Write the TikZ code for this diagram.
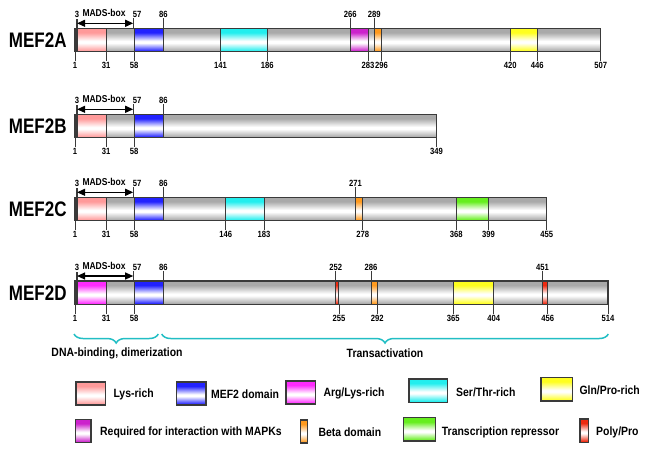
\documentclass[tikz,border=0pt]{standalone}
\usepackage{fontspec}
\setmainfont{Liberation Sans}
\newfontfamily\titlef{Liberation Sans}[FakeStretch=0.81]
\newfontfamily\numf{Liberation Sans}[FakeStretch=0.85]
\newfontfamily\legf{Liberation Sans}[FakeStretch=0.87]
\usetikzlibrary{decorations.pathreplacing,arrows.meta}
\definecolor{edge}{HTML}{3A3A3A}
\definecolor{barcol}{HTML}{A9A9A9}
\definecolor{lys}{HTML}{FF9A9A}
\definecolor{mef}{HTML}{2222FF}
\definecolor{arg}{HTML}{FF2BFF}
\definecolor{ser}{HTML}{22EEEE}
\definecolor{gln}{HTML}{FFFF1E}
\definecolor{mapk}{HTML}{CC22CC}
\definecolor{beta}{HTML}{FF9A1E}
\definecolor{trep}{HTML}{66EE1E}
\definecolor{poly}{HTML}{EE2A10}
\definecolor{brc}{HTML}{22BEC4}
\colorlet{basecol}{barcol}
\pgfdeclareverticalshading[basecol]{band}{100bp}{color(0bp)=(basecol);color(27bp)=(basecol);color(44bp)=(white);color(48bp)=(white);color(66bp)=(basecol);color(100bp)=(basecol)}
\newcommand\Xof[1]{\pgfmathsetmacro\xP{73.96+1.039*(#1)}}
\newcommand\domain[4]{% colour, p1, p2, ytop
  \begingroup\colorlet{basecol}{#1}\Xof{#2}\let\xA\xP\Xof{#3}\let\xB\xP
  \path[shading=band,draw=edge,line width=0.9] (\xA,#4) rectangle (\xB,{#4+23.5});
  \endgroup}
\newcommand\protbar[3]{% name, ytop, last residue
  \begingroup\colorlet{basecol}{barcol}\Xof{1}\let\xA\xP\Xof{#3}\let\xB\xP
  \path[shading=band,draw=edge,line width=1.2] (\xA,#2) rectangle (\xB,{#2+23.5});
  \endgroup
  \node[title] (#1) at (37.8,{#2+12}) {#1};}
\newcommand\tup[4]{% pos, ytop, label, name
  \Xof{#1}\draw[tick] (\xP,{#2-10}) -- (\xP,#2);
  \node[num,anchor=south] (#4) at (\xP,{#2-10}) {#3};}
\newcommand\tdn[4]{% pos, ytop, label, name
  \Xof{#1}\draw[tick] (\xP,{#2+23.5}) -- (\xP,{#2+33}); 
  \node[num,anchor=north] (#4) at (\xP,{#2+33}) {#3};}
\newcommand\mads[2]{% prefix, ytop
  \Xof{3}\let\xA\xP\Xof{57}\let\xB\xP
  \draw[draw=edge,line width=1.3] (\xA,{#2-9}) -- (\xA,{#2+23.5});
  \draw[tick] (\xB,{#2-10}) -- (\xB,#2);
  \draw[madsarrow] (\xA,{#2-5}) -- (\xB,{#2-5});
  \node[num,anchor=south] (#1m3) at (\xA,{#2-10}) {3};
  \node[madsf] (#1mb) at (104,{#2-15}) {MADS-box};
  \node[num] (#1m57) at ({\xB+4},{#2-13.5}) {57};}
\newcommand\legbox[5]{% colour, x1, y1, x2, y2
  \begingroup\colorlet{basecol}{#1}
  \path[shading=band,draw=edge,line width=1.2] (#2,#3) rectangle (#4,#5);
  \endgroup}
\begin{document}
\begin{tikzpicture}[x=1pt,y=-1pt,
  tick/.style={draw=edge,line width=0.8},
  num/.style={font=\numf\bfseries\fontsize{9}{9}\selectfont,inner sep=0.6pt},
  madsf/.style={font=\numf\bfseries\fontsize{10}{10}\selectfont,inner sep=0pt},
  title/.style={font=\titlef\bfseries\fontsize{21}{21}\selectfont,inner sep=0pt},
  legt/.style={font=\legf\bfseries\fontsize{12}{12}\selectfont,inner sep=0pt},
  madsarrow/.style={draw=black,line width=1.2,{Triangle[length=8pt,width=7pt]}-{Triangle[length=8pt,width=7pt]}},
  brace/.style={draw=brc,line width=1.5,decorate,decoration={brace,mirror,amplitude=9pt}}]
\useasboundingbox (0,0) rectangle (650,451);
% ---------------- MEF2A
\def\yt{28.3}
\protbar{MEF2A}{\yt}{507}
\domain{lys}{3}{31}{\yt}
\domain{mef}{58}{86}{\yt}
\domain{ser}{141}{186}{\yt}
\domain{mapk}{266}{283}{\yt}
\domain{beta}{289}{296}{\yt}
\domain{gln}{420}{446}{\yt}
\mads{a}{\yt}
\tup{86}{\yt}{86}{a86}
\tup{266}{\yt}{266}{a266}
\tup{289}{\yt}{289}{a289}
\tdn{1}{\yt}{1}{a1}
\tdn{31}{\yt}{31}{a31}
\tdn{58}{\yt}{58}{a58}
\tdn{141}{\yt}{141}{a141}
\tdn{186}{\yt}{186}{a186}
\tdn{283}{\yt}{283}{a283}
\tdn{296}{\yt}{296}{a296}
\tdn{420}{\yt}{420}{a420}
\tdn{446}{\yt}{446}{a446}
\tdn{507}{\yt}{507}{a507}
% ---------------- MEF2B
\def\yt{114.3}
\protbar{MEF2B}{\yt}{349}
\domain{lys}{3}{31}{\yt}
\domain{mef}{58}{86}{\yt}
\mads{b}{\yt}
\tup{86}{\yt}{86}{b86}
\tdn{1}{\yt}{1}{b1}
\tdn{31}{\yt}{31}{b31}
\tdn{58}{\yt}{58}{b58}
\tdn{349}{\yt}{349}{b349}
% ---------------- MEF2C
\def\yt{197.3}
\protbar{MEF2C}{\yt}{455}
\domain{lys}{3}{31}{\yt}
\domain{mef}{58}{86}{\yt}
\domain{ser}{146}{183}{\yt}
\domain{beta}{271}{278}{\yt}
\domain{trep}{368}{399}{\yt}
\mads{c}{\yt}
\tup{86}{\yt}{86}{c86}
\tup{271}{\yt}{271}{c271}
\tdn{1}{\yt}{1}{c1}
\tdn{31}{\yt}{31}{c31}
\tdn{58}{\yt}{58}{c58}
\tdn{146}{\yt}{146}{c146}
\tdn{183}{\yt}{183}{c183}
\tdn{278}{\yt}{278}{c278}
\tdn{368}{\yt}{368}{c368}
\tdn{399}{\yt}{399}{c399}
\tdn{455}{\yt}{455}{c455}
% ---------------- MEF2D
\def\yt{281}
\protbar{MEF2D}{\yt}{514}
\domain{arg}{3}{31}{\yt}
\domain{mef}{58}{86}{\yt}
\domain{poly}{252}{255}{\yt}
\domain{beta}{286}{292}{\yt}
\domain{gln}{365}{404}{\yt}
\domain{poly}{451}{456}{\yt}
\mads{d}{\yt}
\tup{86}{\yt}{86}{d86}
\tup{252}{\yt}{252}{d252}
\tup{286}{\yt}{286}{d286}
\tup{451}{\yt}{451}{d451}
\tdn{1}{\yt}{1}{d1}
\tdn{31}{\yt}{31}{d31}
\tdn{58}{\yt}{58}{d58}
\tdn{255}{\yt}{255}{d255}
\tdn{292}{\yt}{292}{d292}
\tdn{365}{\yt}{365}{d365}
\tdn{404}{\yt}{404}{d404}
\tdn{456}{\yt}{456}{d456}
\tdn{514}{\yt}{514}{d514}
% ---------------- braces
\coordinate (b1s) at (74,334);
\coordinate (b1e) at (158.3,334);
\coordinate (b2s) at (161.7,334);
\coordinate (b2e) at (608.3,334);
\draw[brace] (b1s) -- (b1e);
\draw[brace] (b2s) -- (b2e);
\node[legt] (dna) at (117,353.5) {DNA-binding, dimerization};
\node[legt] (tra) at (385,353.5) {Transactivation};
% ---------------- legend
\legbox{lys}{76}{382}{105.7}{405}
\node[legt,anchor=west] (l1) at (113.3,394.3) {Lys-rich};
\legbox{mef}{176.7}{382}{206}{405}
\node[legt,anchor=west] (l2) at (211,394) {MEF2 domain};
\legbox{arg}{286}{381}{315.7}{404}
\node[legt,anchor=west] (l3) at (323.3,393.5) {Arg/Lys-rich};
\legbox{ser}{409}{379}{447.7}{402.3}
\node[legt,anchor=west] (l4) at (456,392.7) {Ser/Thr-rich};
\legbox{gln}{541}{377.3}{572.7}{401}
\node[legt,anchor=west] (l5) at (579.3,390) {Gln/Pro-rich};
\legbox{mapk}{75.7}{419.3}{91}{442.7}
\node[legt,anchor=west] (l6) at (100,432.7) {Required for interaction with MAPKs};
\legbox{beta}{300.7}{420}{307.7}{443}
\node[legt,anchor=west] (l7) at (318.3,432.5) {Beta domain};
\legbox{trep}{403.3}{417.7}{435.7}{441}
\node[legt,anchor=west] (l8) at (441.7,432.3) {Transcription repressor};
\legbox{poly}{580}{419}{588.3}{442.3}
\node[legt,anchor=west] (l9) at (596,432) {Poly/Pro};
\end{tikzpicture}
\end{document}
